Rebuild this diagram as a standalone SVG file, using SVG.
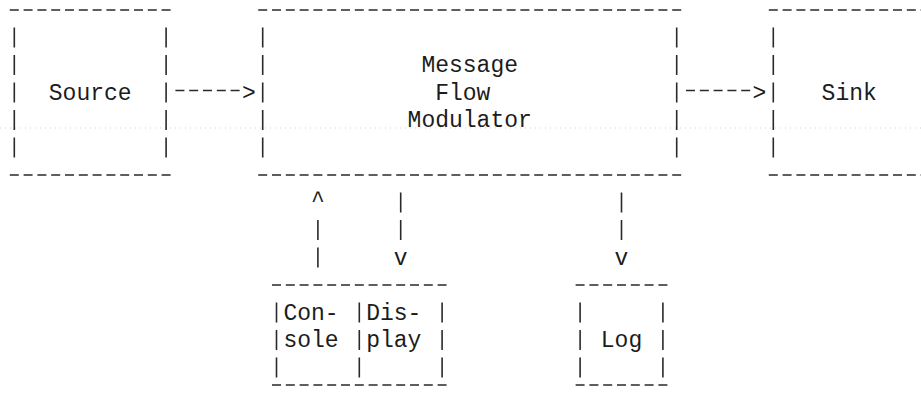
<svg xmlns="http://www.w3.org/2000/svg" width="921" height="394" viewBox="0 0 921 394">
  <style>
    .t { font-family: "Liberation Mono", "DejaVu Sans Mono", monospace; font-size: 23px; fill: #1c1c1c; text-anchor: middle; }
    .h { stroke: #2a2a2a; stroke-width: 1.7; stroke-dasharray: 9 4.8; fill: none; }
    .v { stroke: #2a2a2a; stroke-width: 1.6; stroke-dasharray: 20 7.5; fill: none; }
    .rule { stroke: #9a9a9a; stroke-width: 0.8; stroke-dasharray: 1 4; opacity: 0.6; }
  </style>
  <rect width="921" height="394" fill="#ffffff"/>

  <!-- faint ruled guide line -->
  <line class="rule" x1="0" y1="128" x2="921" y2="128"/>

  <!-- character grid: column c centred at x = 14.3 + 13.8c, row r centred at y = 10 + 27.5r -->

  <g id="source">
    <line class="h" x1="9.8" y1="10" x2="170.6" y2="10"/>
    <line class="h" x1="9.8" y1="175" x2="170.6" y2="175"/>
    <line class="v" x1="14.3" y1="27.5" x2="14.3" y2="157.5"/>
    <line class="v" x1="166.1" y1="27.5" x2="166.1" y2="157.5"/>
    <text class="t" x="90.2" y="99.5">Source</text>
  </g>

  <g id="modulator">
    <line class="h" x1="258.2" y1="10" x2="681.2" y2="10"/>
    <line class="h" x1="258.2" y1="175" x2="681.2" y2="175"/>
    <line class="v" x1="262.7" y1="27.5" x2="262.7" y2="157.5"/>
    <line class="v" x1="676.7" y1="27.5" x2="676.7" y2="157.5"/>
    <text class="t" x="469.7" y="72">Message</text>
    <text class="t" x="462.8" y="99.5">Flow</text>
    <text class="t" x="469.7" y="127">Modulator</text>
  </g>

  <g id="sink">
    <line class="h" x1="768.8" y1="10" x2="930" y2="10"/>
    <line class="h" x1="768.8" y1="175" x2="930" y2="175"/>
    <line class="v" x1="773.3" y1="27.5" x2="773.3" y2="157.5"/>
    <text class="t" x="849.2" y="99.5">Sink</text>
  </g>

  <g id="console-display">
    <line class="h" x1="272" y1="285" x2="446.6" y2="285"/>
    <line class="h" x1="272" y1="385" x2="446.6" y2="385"/>
    <g id="console">
      <line class="v" x1="276.5" y1="302.5" x2="276.5" y2="377.5"/>
      <text class="t" x="311" y="319.5">Con-</text>
      <text class="t" x="311" y="347">sole</text>
    </g>
    <g id="display">
      <line class="v" x1="359.3" y1="302.5" x2="359.3" y2="377.5"/>
      <line class="v" x1="442.1" y1="302.5" x2="442.1" y2="377.5"/>
      <text class="t" x="393.8" y="319.5">Dis-</text>
      <text class="t" x="393.8" y="347">play</text>
    </g>
  </g>

  <g id="log">
    <line class="h" x1="575.6" y1="285" x2="667.4" y2="285"/>
    <line class="h" x1="575.6" y1="385" x2="667.4" y2="385"/>
    <line class="v" x1="580.1" y1="302.5" x2="580.1" y2="377.5"/>
    <line class="v" x1="662.9" y1="302.5" x2="662.9" y2="377.5"/>
    <text class="t" x="621.5" y="347">Log</text>
  </g>

  <g id="connectors">
    <!-- Source to Modulator -->
    <line class="h" x1="175.4" y1="90.5" x2="239.6" y2="90.5"/>
    <text class="t" x="248.9" y="99.5">&gt;</text>
    <!-- Modulator to Sink -->
    <line class="h" x1="686" y1="90.5" x2="750.2" y2="90.5"/>
    <text class="t" x="759.5" y="99.5">&gt;</text>
    <!-- Console up to Modulator -->
    <line class="v" x1="317.9" y1="220" x2="317.9" y2="267.5"/>
    <text class="t" x="317.9" y="207">^</text>
    <!-- Modulator down to Display -->
    <line class="v" x1="400.7" y1="192.5" x2="400.7" y2="240"/>
    <text class="t" x="400.7" y="264.5">v</text>
    <!-- Modulator down to Log -->
    <line class="v" x1="621.5" y1="192.5" x2="621.5" y2="240"/>
    <text class="t" x="621.5" y="264.5">v</text>
  </g>
</svg>
